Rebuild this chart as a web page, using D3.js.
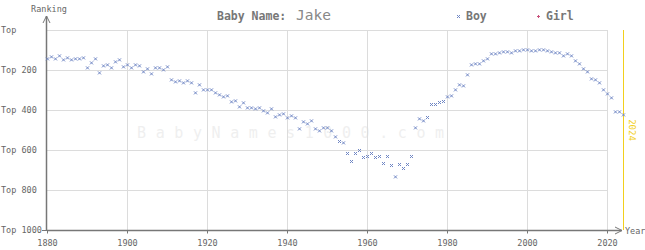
<!DOCTYPE html>
<html>
<head>
<meta charset="utf-8">
<script src="https://cdn.jsdelivr.net/npm/d3@7"></script>
<style>
  body { margin: 0; background: #fff; }
  svg { display: block; font-family: "DejaVu Sans Mono", monospace; }
</style>
</head>
<body>
<svg id="chart" width="645" height="250"></svg>
<script>
// ranking of "Jake" (boys) per year
const years = d3.range(1880, 2025);
const boy_ranks = [
	142, 132, 142, 127, 147, 137, 147, 142, 142, 137,
	187, 162, 142, 212, 177, 172, 187, 157, 147, 182,
	172, 187, 172, 177, 207, 192, 217, 187, 187, 197,
	182, 247, 257, 252, 262, 252, 262, 312, 272, 297,
	297, 297, 312, 322, 332, 327, 357, 352, 382, 362,
	387, 387, 392, 387, 402, 412, 392, 432, 422, 417,
	437, 427, 437, 492, 457, 467, 452, 492, 502, 487,
	487, 502, 532, 555, 562, 615, 655, 615, 600, 635,
	630, 615, 635, 630, 665, 630, 675, 732, 670, 690,
	670, 630, 487, 442, 452, 435, 370, 370, 360, 355,
	332, 327, 297, 272, 277, 222, 172, 167, 167, 152,
	142, 117, 117, 112, 107, 107, 112, 102, 102, 97,
	97, 102, 102, 97, 97, 102, 107, 112, 112, 127,
	117, 127, 152, 167, 192, 207, 242, 247, 262, 297,
	317, 337, 407, 407, 422
];
const x_ticks = [1880, 1900, 1920, 1940, 1960, 1980, 2000, 2020];
const y_ticks = [0, 200, 400, 600, 800, 1000];
const y_labels = ['Top', 'Top 200', 'Top 400', 'Top 600', 'Top 800', 'Top 1000'];
const current_year = 2024;

const svg = d3.select('#chart');

const x = d3.scaleLinear().domain([1880, 2020]).range([47, 607]);
const y = d3.scaleLinear().domain([0, 1000]).range([30, 230]);

const boy_color = '#6f86c4';
const girl_color = '#c8507a';
const axis_color = '#777';
const text_color = '#666';

// watermark
svg.append('text')
	.attr('x', 137).attr('y', 138)
	.attr('font-size', 15)
	.attr('letter-spacing', 9.6)
	.attr('fill', '#efefef')
	.text('BabyNames1000.com');

// grid
svg.append('g').selectAll('line')
	.data(x_ticks.slice(1))
	.join('line')
	.attr('x1', d => x(d) + 0.5).attr('x2', d => x(d) + 0.5)
	.attr('y1', y(0)).attr('y2', y(1000))
	.attr('stroke', '#dcdcdc');

svg.append('g').selectAll('line')
	.data(y_ticks.slice(0, -1))
	.join('line')
	.attr('x1', x(1880)).attr('x2', x(2020))
	.attr('y1', d => y(d) + 0.5).attr('y2', d => y(d) + 0.5)
	.attr('stroke', '#dcdcdc');

// axes
const x_axis = d3.axisBottom(x).tickValues(x_ticks).tickSize(3).tickFormat(d3.format('d'));
const gx = svg.append('g').attr('transform', `translate(0,${y(1000) + 0.5})`).call(x_axis);
gx.select('.domain').remove();
gx.selectAll('line').attr('stroke', axis_color);
gx.selectAll('text').attr('fill', text_color).attr('font-size', 8.5).attr('font-family', 'DejaVu Sans Mono').attr('dy', '1.1em');

svg.append('line')
	.attr('x1', x(1880)).attr('x2', 622)
	.attr('y1', y(1000) + 0.5).attr('y2', y(1000) + 0.5)
	.attr('stroke', axis_color).attr('stroke-width', 1.5);
svg.append('path')
	.attr('d', `M615,${y(1000) - 3}L622,${y(1000) + 0.5}L615,${y(1000) + 4}`)
	.attr('fill', 'none').attr('stroke', axis_color);
svg.append('text')
	.attr('x', 625).attr('y', y(1000) + 4)
	.attr('font-size', 8.5).attr('fill', text_color)
	.text('Year');

svg.append('line')
	.attr('x1', x(1880) - 0.5).attr('x2', x(1880) - 0.5)
	.attr('y1', 16).attr('y2', y(1000) + 1)
	.attr('stroke', axis_color).attr('stroke-width', 1.5);
svg.append('path')
	.attr('d', `M${x(1880) - 4},23L${x(1880) - 0.5},16L${x(1880) + 3},23`)
	.attr('fill', 'none').attr('stroke', axis_color);
svg.append('text')
	.attr('x', 49).attr('y', 12)
	.attr('text-anchor', 'middle')
	.attr('font-size', 8.5).attr('fill', text_color)
	.text('Ranking');

svg.append('line')
	.attr('x1', x(1880) - 5).attr('x2', x(1880))
	.attr('y1', y(1000) + 0.5).attr('y2', y(1000) + 0.5)
	.attr('stroke', axis_color);

svg.append('g').selectAll('text')
	.data(y_ticks)
	.join('text')
	.attr('x', 1).attr('y', d => y(d) + 3)
	.attr('font-size', 8.5).attr('fill', text_color)
	.text((d, i) => y_labels[i]);

// current year marker
svg.append('line')
	.attr('x1', x(current_year) + 0.5).attr('x2', x(current_year) + 0.5)
	.attr('y1', y(0)).attr('y2', y(1000))
	.attr('stroke', '#f2cf1d');
svg.append('text')
	.attr('transform', `translate(${x(current_year) + 6},${y(500)}) rotate(90)`)
	.attr('text-anchor', 'middle')
	.attr('font-size', 9).attr('fill', '#f2cf1d')
	.text(current_year);

// boy marks
const cross = 'M-1.5,-1.5L1.5,1.5M-1.5,1.5L1.5,-1.5';
svg.append('g').selectAll('path')
	.data(years.map((d, i) => [d, boy_ranks[i]]))
	.join('path')
	.attr('transform', d => `translate(${x(d[0]) + 0.5},${y(d[1]) + 0.5})`)
	.attr('d', cross)
	.attr('stroke', boy_color).attr('stroke-width', 1);

// title
const title = svg.append('text').attr('y', 20).attr('fill', '#777');
title.append('tspan').attr('x', 217).attr('font-size', 11.5).attr('font-weight', 'bold').text('Baby Name:');
title.append('tspan').attr('x', 296).attr('font-size', 14.5).attr('fill', '#888').text('Jake');

// legend
svg.append('path')
	.attr('transform', 'translate(458.5,16.5)')
	.attr('d', 'M-1.5,-1.5L1.5,1.5M-1.5,1.5L1.5,-1.5')
	.attr('stroke', boy_color);
svg.append('text')
	.attr('x', 466).attr('y', 20)
	.attr('font-size', 11.5).attr('font-weight', 'bold').attr('fill', '#777')
	.text('Boy');
svg.append('path')
	.attr('transform', 'translate(538.5,16.5)')
	.attr('d', 'M-1.5,0L1.5,0M0,-1.5L0,1.5')
	.attr('stroke', girl_color);
svg.append('text')
	.attr('x', 546).attr('y', 20)
	.attr('font-size', 11.5).attr('font-weight', 'bold').attr('fill', '#777')
	.text('Girl');
</script>
</body>
</html>
